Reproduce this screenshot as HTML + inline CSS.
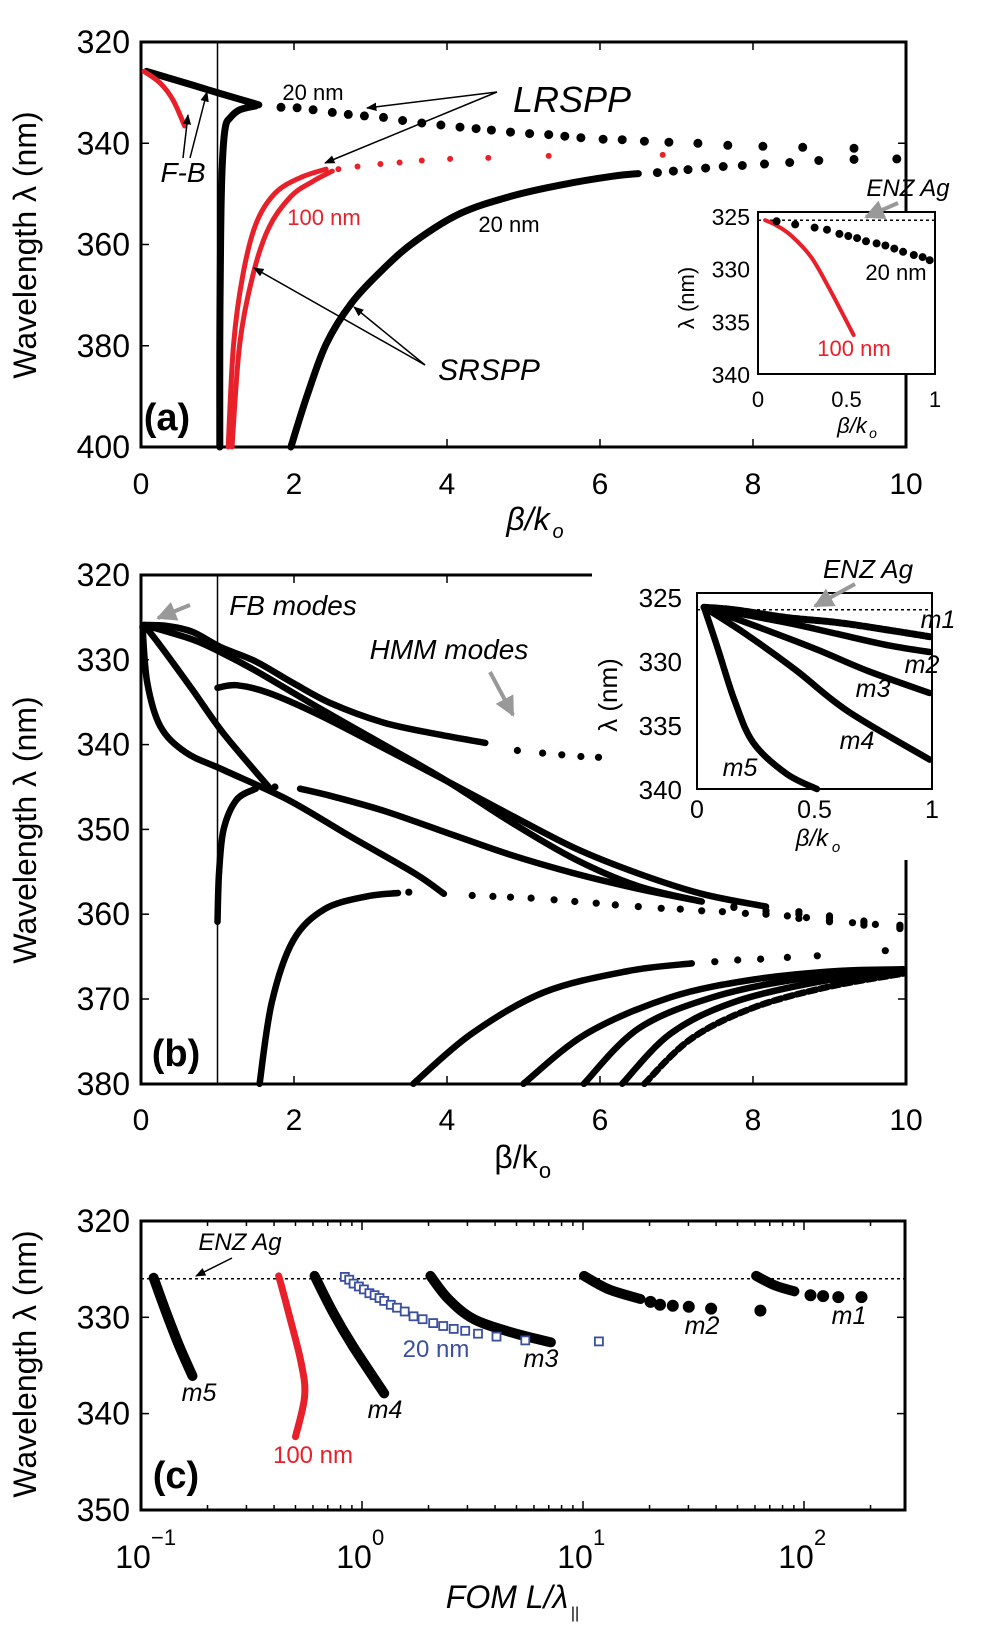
<!DOCTYPE html>
<html><head><meta charset="utf-8"><style>
body{margin:0;background:#fff}
svg{display:block;font-family:"Liberation Sans",sans-serif}
</style></head><body>
<svg id="fig" width="1000" height="1640" viewBox="0 0 1000 1640" xmlns="http://www.w3.org/2000/svg">
<defs>
<marker id="ah" viewBox="0 0 10 10" refX="9" refY="5" markerWidth="7" markerHeight="7" orient="auto"><path d="M0,1 L10,5 L0,9 z" fill="#000"/></marker>
<marker id="ahg" viewBox="0 0 10 10" refX="9" refY="5" markerWidth="5" markerHeight="5" orient="auto"><path d="M0,0 L10,5 L0,10 z" fill="#999"/></marker>
</defs>
<g id="pa"></g>
<g id="pb"></g>
<g id="pc"></g>
</svg>
<script>
// ---------- Panel (a) data [beta/k0, wavelength nm] ----------
const aLRSPP20Dense=[[0.07,325.8],[0.67,328.5],[1.04,330.2],[1.54,332.4]];
const aLRSPP20Dots=[[1.83,332.9],[2.04,333.0],[2.25,333.4],[2.5,333.9],[2.71,334.3],[2.92,334.6],[3.17,334.9],[3.42,335.5],[3.67,336.0],[3.92,336.4],[4.17,336.8],[4.38,337.1],[4.58,337.4],[4.83,337.8],[5.08,338.1],[5.33,338.3],[5.54,338.6],[5.75,338.9],[6.04,339.2],[6.29,339.3],[6.58,339.6],[6.9,339.8],[7.28,340.0],[7.67,340.4],[8.13,340.6],[8.65,340.8],[9.32,341.0]];
const aNearOne=[[1.03,400],[1.03,380],[1.04,359.4],[1.06,345],[1.1,337],[1.17,334.9],[1.29,333.4],[1.5,332.6]];
const aSRSPP20Dense=[[1.96,400],[2.17,389.9],[2.42,379.7],[2.75,371.6],[3.17,364.8],[3.58,359.4],[4.17,353.9],[4.83,350.5],[5.5,348.2],[6.17,346.5],[6.5,346.0]];
const aSRSPP20Dots=[[6.75,345.8],[6.96,345.5],[7.15,345.2],[7.38,344.9],[7.61,344.6],[7.86,344.4],[8.15,344.1],[8.48,343.8],[8.86,343.4],[9.32,343.2],[9.88,343.1]];
const aFB100=[[0.04,325.8],[0.25,328.1],[0.42,331.5],[0.57,336.6]];
const aSR100a=[[1.14,400],[1.21,379.7],[1.33,366.2],[1.5,356],[1.75,349.9],[2.08,346.8],[2.42,345.1]];
const aSR100b=[[1.19,400],[1.29,379.7],[1.46,366.2],[1.67,356.7],[1.96,350.5],[2.25,347.5],[2.5,345.5]];
const aLR100Dots=[[2.58,345.1],[2.83,344.6],[3.13,344.1],[3.38,343.8],[3.67,343.4],[4.04,343.1],[4.54,342.9],[5.33,342.5],[6.82,342.3]];
const aInset20=[[0.105,325.5],[0.21,325.8],[0.32,326.1],[0.39,326.3],[0.46,326.7],[0.51,326.9],[0.56,327.1],[0.61,327.4],[0.67,327.6],[0.72,327.8],[0.77,328.1],[0.82,328.4],[0.88,328.7],[0.93,328.9],[0.97,329.2]];
const aInset100=[[0.04,325.4],[0.105,325.9],[0.19,326.9],[0.3,328.9],[0.4,331.8],[0.54,336.3]];
const aXTicks=[0,2,4,6,8,10];
const aYTicks=[320,340,360,380,400];
const aiYTicks=[325,330,335,340];
const aiXTicks=["0","0.5","1"];

// ---------- Panel (b) data ----------
const bM1=[[0.04,325.9],[0.33,326.0],[0.67,326.7],[1.04,328.5],[1.5,330.2],[2.0,332.8],[2.5,335.2],[3.17,337.4],[3.83,338.7],[4.5,339.8]];
const bM1Dots=[[4.92,340.7],[5.25,341.0],[5.5,341.2],[5.75,341.4],[5.98,341.5]];
const bM2=[[0.04,325.9],[0.67,327.6],[1.04,329.1],[1.5,331.3],[2.33,335.7],[3.17,340],[4.0,344.3],[4.83,349.1],[5.67,353.5],[6.5,356.7],[7.33,358.5]];
const bM2Dots=[[7.75,359.1],[8.17,359.6],[8.6,360.0],[9.0,360.4],[9.45,361.0],[9.92,361.5]];
const bM3=[[1.0,333.3],[1.25,333.0],[1.67,333.9],[2.33,336.5],[3.17,340.4],[4.0,344.3],[4.83,348.3],[5.67,352.2],[6.5,355.2],[7.33,357.6],[8.17,359.1]];
const bM3Dots=[[8.6,359.7],[9.0,360.2],[9.45,360.8],[9.92,361.3]];
const bM4=[[0.04,325.9],[0.25,328.3],[0.67,333.5],[1.08,338.7],[1.67,345.0]];
const bM5=[[0.02,326.1],[0.08,332.6],[0.25,337.8],[0.58,340.9],[1.08,343.0],[1.92,346.5],[2.75,350.9],[3.58,355.2],[3.96,357.6]];
const bRise=[[1.0,360.9],[1.02,355.2],[1.08,350.0],[1.25,346.5],[1.5,345.2]];
const bRiseDots=[[1.62,345.0],[1.75,345.0]];
const bRiseTail=[[2.08,345.2],[2.5,346.1],[3.17,347.8],[4.0,350.4],[4.83,353.0],[5.67,355.2],[6.5,357.0],[7.33,358.5]];
const bRiseTailDots=[[7.75,359.2],[8.17,360.0],[8.6,360.5],[9.0,360.9],[9.45,361.3],[9.92,361.7]];
const bLow=[[1.55,380],[1.71,370.4],[1.99,363.1],[2.4,359.4],[2.95,357.9],[3.36,357.5]];
const bLowDots=[[3.5,357.4],[4.33,357.8],[4.6,357.9],[4.83,358.0],[5.1,358.1],[5.4,358.3],[5.67,358.5],[5.95,358.7],[6.2,358.9],[6.5,359.1],[6.8,359.3],[7.05,359.4],[7.33,359.6],[7.6,359.7],[7.9,359.9],[8.17,360.0],[8.45,360.2],[8.7,360.4],[9.0,360.7],[9.3,361.0],[9.6,361.2],[9.92,361.5]];
const bL1=[[3.56,380],[4.32,374.1],[5.27,369.2],[6.37,366.7],[7.2,365.8]];
const bL1Dots=[[7.5,365.6],[7.8,365.4],[8.1,365.3],[8.45,365.1],[8.84,364.9],[9.73,364.3]];
const bL2=[[5.0,380],[5.82,374.1],[6.92,369.8],[8.01,367.7],[9.11,366.7],[9.96,366.5]];
const bL3=[[5.79,380],[6.5,373.5],[7.47,369.8],[8.56,367.7],[9.96,366.5]];
const bL4=[[6.29,380],[6.92,374.1],[7.74,370.4],[8.84,368],[9.96,366.7]];
const bL5=[[6.58,380],[7.19,374.7],[8.01,371],[8.97,368.6],[9.96,367]];
const biM1=[[0.03,325.8],[0.16,326.0],[0.38,326.6],[0.6,327.0],[0.82,327.6],[0.99,328.1]];
const biM2=[[0.03,325.8],[0.38,327.0],[0.6,327.9],[0.82,328.8],[0.99,329.3]];
const biM3=[[0.03,325.8],[0.24,327.2],[0.51,329.1],[0.73,330.8],[0.99,332.5]];
const biM4=[[0.03,325.8],[0.2,327.8],[0.42,330.7],[0.64,333.9],[0.99,337.7]];
const biM5=[[0.03,325.8],[0.09,329.1],[0.16,333.1],[0.24,336.4],[0.38,338.8],[0.51,340]];
const bXTicks=[0,2,4,6,8,10];
const bYTicks=[320,330,340,350,360,370,380];

// ---------- Panel (c) data [FOM, wavelength] ----------
const cM5=[[0.114,325.9],[0.13,329.5],[0.149,333.0],[0.171,336.1]];
const c100=[[0.42,325.7],[0.465,329.5],[0.53,334.7],[0.55,338.2],[0.50,342.4]];
const cM4=[[0.61,325.7],[0.74,329.5],[0.91,333],[1.26,337.9]];
const c20=[[0.836,325.8],[0.875,326.1],[0.916,326.5],[0.968,326.8],[1.02,327.1],[1.08,327.5],[1.14,327.7],[1.20,328.0],[1.26,328.3],[1.35,328.7],[1.44,329.0],[1.56,329.4],[1.71,329.9],[1.88,330.2],[2.10,330.6],[2.33,330.9],[2.60,331.2],[2.93,331.4],[3.35,331.7],[4.06,332.0],[5.48,332.4],[11.8,332.5]];
const cM3=[[2.04,325.7],[2.46,328.1],[3.21,330.2],[4.80,331.6],[7.16,332.6]];
const cM2=[[10.1,325.7],[13.1,327.1],[18.2,328.1]];
const cM2Dots=[[20.2,328.4],[22.3,328.7],[25.5,328.8],[30.1,328.9],[38.0,329.1]];
const cM1=[[60.7,325.7],[74.1,326.7],[90.5,327.3]];
const cM1Dots=[[107,327.7],[122,327.8],[143,327.9],[182,327.9],[63.5,329.3]];
const cYTicks=[320,330,340,350];
const cXDecades=[-1,0,1,2];
const ENZ=326;

// ---------- helpers ----------
const NS="http://www.w3.org/2000/svg";
function mk(parent,tag,attrs){const e=document.createElementNS(NS,tag);for(const k in attrs)e.setAttribute(k,attrs[k]);parent.appendChild(e);return e;}
function txt(parent,x,y,s,size,opts){opts=opts||{};const e=mk(parent,'text',{x:x,y:y,'font-size':size,'text-anchor':opts.anchor||'middle',fill:opts.fill||'#000'});
 if(opts.italic)e.setAttribute('font-style','italic');if(opts.bold)e.setAttribute('font-weight','bold');
 if(opts.rot)e.setAttribute('transform','rotate(-90 '+x+' '+y+')');
 e.textContent=s;return e;}
function smoothD(P){ // Catmull-Rom to bezier through pixel points
 if(P.length<3)return 'M'+P.map(p=>p[0].toFixed(1)+','+p[1].toFixed(1)).join(' L');
 let d='M'+P[0][0].toFixed(1)+','+P[0][1].toFixed(1);
 for(let i=0;i<P.length-1;i++){const p0=P[i-1]||P[i],p1=P[i],p2=P[i+1],p3=P[i+2]||p2;
  const c1=[p1[0]+(p2[0]-p0[0])/6,p1[1]+(p2[1]-p0[1])/6],c2=[p2[0]-(p3[0]-p1[0])/6,p2[1]-(p3[1]-p1[1])/6];
  d+=' C'+c1[0].toFixed(1)+','+c1[1].toFixed(1)+' '+c2[0].toFixed(1)+','+c2[1].toFixed(1)+' '+p2[0].toFixed(1)+','+p2[1].toFixed(1);}
 return d;}
function curve(parent,pts,fx,fy,color,w,dash){const P=pts.map(p=>[fx(p[0]),fy(p[1])]);const e=mk(parent,'path',{d:smoothD(P),fill:'none',stroke:color,'stroke-width':w,'stroke-linecap':'round','stroke-linejoin':'round'});if(dash)e.setAttribute('stroke-dasharray',dash);return e;}
function dots(parent,pts,fx,fy,color,r){const g=mk(parent,'g',{});pts.forEach(p=>{const c=mk(g,'circle',{cx:fx(p[0]).toFixed(1),cy:fy(p[1]).toFixed(1),r:r,fill:color});

});return g;}
function arrow(parent,x1,y1,x2,y2,grey){return mk(parent,'line',{x1:x1,y1:y1,x2:x2,y2:y2,stroke:grey?'#999':'#000','stroke-width':grey?4:1.5,'marker-end':grey?'url(#ahg)':'url(#ah)'});}
function nm(e,n){return e;}

// ---------- Panel (a) ----------
(function(){
const g=document.getElementById('pa');
const X=b=>141+b*76.5, Y=l=>42+(l-320)*5.0625;
const XI=b=>758+b*177, YI=l=>216+(l-325)*10.53;
let e;
e=mk(g,'rect',{x:141,y:42,width:765,height:405,fill:'none',stroke:'#000','stroke-width':3});nm(e,'plot-frame-a');
e=mk(g,'line',{x1:X(1),y1:42,x2:X(1),y2:447,stroke:'#000','stroke-width':1.5});nm(e,'light-line-a');
aXTicks.forEach(t=>{mk(g,'line',{x1:X(t),y1:447,x2:X(t),y2:439,stroke:'#000','stroke-width':1.5});mk(g,'line',{x1:X(t),y1:42,x2:X(t),y2:50,stroke:'#000','stroke-width':1.5});
 e=txt(g,X(t),494,String(t),30);nm(e,'x-tick-label');});
aYTicks.forEach(t=>{mk(g,'line',{x1:141,y1:Y(t),x2:149,y2:Y(t),stroke:'#000','stroke-width':1.5});mk(g,'line',{x1:906,y1:Y(t),x2:898,y2:Y(t),stroke:'#000','stroke-width':1.5});
 e=txt(g,130,Y(t)+11,String(t),32,{anchor:'end'});nm(e,'y-tick-label');});
e=txt(g,36,245,'Wavelength λ (nm)',32,{rot:1});nm(e,'y-axis-title-a');
e=txt(g,528,530,'β/k',32,{italic:1});nm(e,'x-axis-title-a');
txt(g,558,538,'o',20,{italic:1});
e=txt(g,167,430,'(a)',38,{bold:1});nm(e,'panel-label-a');
e=curve(g,aNearOne,X,Y,'#000',7);nm(e,'lrspp-near-light-line');
e=curve(g,aLRSPP20Dense,X,Y,'#000',7);nm(e,'lrspp-20nm-dense');
e=dots(g,aLRSPP20Dots,X,Y,'#000',4.5);nm(e,'lrspp-20nm-dots');
e=curve(g,aSRSPP20Dense,X,Y,'#000',7);nm(e,'srspp-20nm-dense');
e=dots(g,aSRSPP20Dots,X,Y,'#000',4.5);nm(e,'srspp-20nm-dots');
e=curve(g,aFB100,X,Y,'#e8202a',5);nm(e,'fb-100nm');
e=curve(g,aSR100a,X,Y,'#e8202a',5);nm(e,'srspp-100nm-a');
e=curve(g,aSR100b,X,Y,'#e8202a',5);nm(e,'srspp-100nm-b');
e=dots(g,aLR100Dots,X,Y,'#e8202a',3);nm(e,'lrspp-100nm-dots');
e=txt(g,313,100,'20 nm',22);nm(e,'label-20nm-top');
e=txt(g,572,112,'LRSPP',36,{italic:1});nm(e,'label-lrspp');
arrow(g,497,92,367,108);arrow(g,497,92,325,163);
e=txt(g,183,182,'F-B',28,{italic:1});nm(e,'label-fb');
arrow(g,183,158,188,115);arrow(g,190,158,207,92);
e=txt(g,324,225,'100 nm',22,{fill:'#e8202a'});nm(e,'label-100nm');
e=txt(g,509,232,'20 nm',22);nm(e,'label-20nm-srspp');
e=txt(g,489,380,'SRSPP',30,{italic:1});nm(e,'label-srspp');
arrow(g,425,365,254,268);arrow(g,425,365,354,307);
e=mk(g,'rect',{x:758,y:212,width:177,height:162,fill:'#fff',stroke:'#000','stroke-width':2});nm(e,'inset-frame-a');
e=mk(g,'line',{x1:758,y1:YI(325.4),x2:935,y2:YI(325.4),stroke:'#000','stroke-width':1.5,'stroke-dasharray':'3,3'});nm(e,'enz-line-a');
e=curve(g,aInset100,XI,YI,'#e8202a',4);nm(e,'inset-100nm');
e=dots(g,aInset20,XI,YI,'#000',4);nm(e,'inset-20nm');
aiYTicks.forEach(t=>{e=txt(g,750,YI(t)+9,String(t),23,{anchor:'end'});nm(e,'inset-y-tick');});
[0,0.5,1].forEach((t,i)=>{e=txt(g,XI(t),407,aiXTicks[i],22);nm(e,'inset-x-tick');});
e=txt(g,852,433,'β/k',22,{italic:1});nm(e,'inset-x-title');txt(g,873,438,'o',14,{italic:1});
e=txt(g,694,298,'λ (nm)',22,{rot:1});nm(e,'inset-y-title');
e=txt(g,908,196,'ENZ Ag',24,{italic:1});nm(e,'label-enz-a');
arrow(g,898,203,866,217,1);
e=txt(g,896,280,'20 nm',22);nm(e,'inset-label-20nm');
e=txt(g,854,356,'100 nm',22,{fill:'#e8202a'});nm(e,'inset-label-100nm');
})();

// ---------- Panel (b) ----------
(function(){
const g=document.getElementById('pb');
const X=b=>141+b*76.5, Y=l=>575+(l-320)*8.48;
const XI=b=>697+b*235, YI=l=>597+(l-325)*12.8;
let e;
e=mk(g,'path',{d:'M592,575 L141,575 L141,1084 L906,1084 L906,860',fill:'none',stroke:'#000','stroke-width':3});nm(e,'plot-frame-b');
e=mk(g,'line',{x1:X(1),y1:575,x2:X(1),y2:1084,stroke:'#000','stroke-width':1.5});nm(e,'light-line-b');
bXTicks.forEach(t=>{mk(g,'line',{x1:X(t),y1:1084,x2:X(t),y2:1076,stroke:'#000','stroke-width':1.5});if(X(t)<592)mk(g,'line',{x1:X(t),y1:575,x2:X(t),y2:583,stroke:'#000','stroke-width':1.5});
 e=txt(g,X(t),1130,String(t),30);nm(e,'x-tick-label');});
bYTicks.forEach(t=>{mk(g,'line',{x1:141,y1:Y(t),x2:149,y2:Y(t),stroke:'#000','stroke-width':1.5});if(Y(t)>860)mk(g,'line',{x1:906,y1:Y(t),x2:898,y2:Y(t),stroke:'#000','stroke-width':1.5});
 e=txt(g,130,Y(t)+11,String(t),32,{anchor:'end'});nm(e,'y-tick-label');});
e=txt(g,36,830,'Wavelength λ (nm)',32,{rot:1});nm(e,'y-axis-title-b');
e=txt(g,516,1168,'β/k',32);nm(e,'x-axis-title-b');txt(g,545,1178,'o',22);
e=txt(g,176,1066,'(b)',38,{bold:1});nm(e,'panel-label-b');
const W=6.5,R=3.6;
[[bM1,'mode-1'],[bM2,'mode-2'],[bM3,'mode-3'],[bM4,'mode-4'],[bM5,'mode-5'],[bRise,'rising-branch'],[bRiseTail,'rising-branch-tail'],[bLow,'lower-branch'],[bL1,'hmm-low-1'],[bL2,'hmm-low-2'],[bL3,'hmm-low-3'],[bL4,'hmm-low-4']].forEach(s=>{e=curve(g,s[0],X,Y,'#000',W);nm(e,s[1]);});
e=curve(g,bL5,X,Y,'#000',W,'8,4');nm(e,'hmm-low-5');
[[bM1Dots,'mode-1-dots'],[bM2Dots,'mode-2-dots'],[bM3Dots,'mode-3-dots'],[bRiseDots,'rising-dots'],[bRiseTailDots,'rising-tail-dots'],[bLowDots,'lower-branch-dots'],[bL1Dots,'hmm-low-1-dots']].forEach(s=>{e=dots(g,s[0],X,Y,'#000',R);nm(e,s[1]);});
e=txt(g,293,615,'FB modes',28,{italic:1});nm(e,'label-fb-modes');
arrow(g,190,605,158,618,1);
e=txt(g,449,659,'HMM modes',28,{italic:1});nm(e,'label-hmm-modes');
arrow(g,490,672,513,715,1);
e=mk(g,'rect',{x:697,y:593,width:235,height:196,fill:'#fff',stroke:'#000','stroke-width':2});nm(e,'inset-frame-b');
e=mk(g,'line',{x1:697,y1:YI(ENZ),x2:932,y2:YI(ENZ),stroke:'#000','stroke-width':1.5,'stroke-dasharray':'3,3'});nm(e,'enz-line-b');
e=curve(g,biM1,XI,YI,'#000',7,'5,2');nm(e,'inset-m1');
[[biM2,'inset-m2'],[biM3,'inset-m3'],[biM4,'inset-m4'],[biM5,'inset-m5']].forEach(s=>{e=curve(g,s[0],XI,YI,'#000',6.5);nm(e,s[1]);});
[325,330,335,340].forEach(t=>{e=txt(g,682,YI(t)+10,String(t),26,{anchor:'end'});nm(e,'inset-y-tick');});
[0,0.5,1].forEach((t,i)=>{e=txt(g,XI(t),818,aiXTicks[i],25);nm(e,'inset-x-tick');});
e=txt(g,812,846,'β/k',24,{italic:1});nm(e,'inset-x-title');txt(g,836,852,'o',15,{italic:1});
e=txt(g,617,695,'λ (nm)',26,{rot:1});nm(e,'inset-y-title');
e=txt(g,868,578,'ENZ Ag',26,{italic:1});nm(e,'label-enz-b');
arrow(g,855,584,815,606,1);
[['m1',938,628],['m2',922,673],['m3',873,697],['m4',857,749],['m5',740,776]].forEach(m=>{e=txt(g,m[1],m[2],m[0],25,{italic:1});nm(e,'inset-label-'+m[0]);});
})();

// ---------- Panel (c) ----------
(function(){
const g=document.getElementById('pc');
const X=f=>141+(Math.log10(f)+1)*221, Y=l=>1221+(l-320)*9.63;
let e;
e=mk(g,'rect',{x:141,y:1221,width:764,height:289,fill:'none',stroke:'#000','stroke-width':3});nm(e,'plot-frame-c');
cXDecades.forEach(d=>{for(let k=1;k<10;k++){const v=Math.pow(10,d)*k;const x=X(v);if(x>905)break;const L=k==1?9:5;
 mk(g,'line',{x1:x,y1:1510,x2:x,y2:1510-L,stroke:'#000','stroke-width':1.5});mk(g,'line',{x1:x,y1:1221,x2:x,y2:1221+L,stroke:'#000','stroke-width':1.5});}
 e=txt(g,X(Math.pow(10,d))-8,1568,'10',32);nm(e,'x-tick-label');
 e=txt(g,X(Math.pow(10,d))+10,1545,String(d).replace('-','−'),22,{anchor:'start'});nm(e,'x-tick-exponent');});
cYTicks.forEach(t=>{mk(g,'line',{x1:141,y1:Y(t),x2:149,y2:Y(t),stroke:'#000','stroke-width':1.5});mk(g,'line',{x1:905,y1:Y(t),x2:897,y2:Y(t),stroke:'#000','stroke-width':1.5});
 e=txt(g,130,Y(t)+11,String(t),32,{anchor:'end'});nm(e,'y-tick-label');});
e=txt(g,36,1364,'Wavelength λ (nm)',32,{rot:1});nm(e,'y-axis-title-c');
e=txt(g,507,1608,'FOM L/λ',32,{italic:1});nm(e,'x-axis-title-c');txt(g,575,1618,'||',16);
e=txt(g,176,1488,'(c)',38,{bold:1});nm(e,'panel-label-c');
e=mk(g,'line',{x1:141,y1:Y(ENZ),x2:905,y2:Y(ENZ),stroke:'#000','stroke-width':1.5,'stroke-dasharray':'3,3'});nm(e,'enz-line-c');
e=txt(g,240,1250,'ENZ Ag',24,{italic:1});nm(e,'label-enz-c');
arrow(g,232,1258,196,1276);
[[cM5,'m5-curve'],[cM4,'m4-curve'],[cM3,'m3-curve'],[cM2,'m2-curve'],[cM1,'m1-curve']].forEach(s=>{e=curve(g,s[0],X,Y,'#000',10);nm(e,s[1]);});
e=curve(g,c100,X,Y,'#e8202a',7);nm(e,'red-100nm-curve');
e=dots(g,cM2Dots,X,Y,'#000',6);nm(e,'m2-dots');
e=dots(g,cM1Dots,X,Y,'#000',6);nm(e,'m1-dots');
const sq=mk(g,'g',{});nm(sq,'blue-20nm-squares');
c20.forEach(p=>{const r=mk(sq,'rect',{x:(X(p[0])-4).toFixed(1),y:(Y(p[1])-4).toFixed(1),width:8,height:8,fill:'#fff',stroke:'#3a4fa0','stroke-width':1.8});

});
[['m5',199,1401],['m4',385,1418],['m3',541,1367],['m2',702,1334],['m1',849,1324]].forEach(m=>{e=txt(g,m[1],m[2],m[0],25,{italic:1});nm(e,'label-'+m[0]);});
e=txt(g,313,1463,'100 nm',24,{fill:'#e8202a'});nm(e,'label-100nm-c');
e=txt(g,436,1357,'20 nm',24,{fill:'#3a4fa0'});nm(e,'label-20nm-c');
})();
</script>
</body></html>
